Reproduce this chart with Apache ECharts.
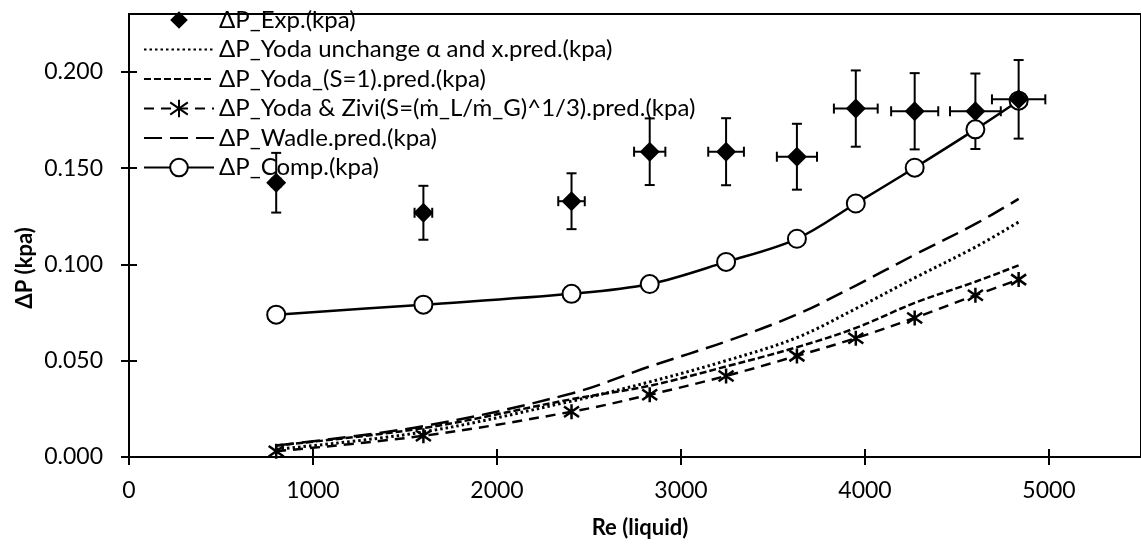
<!DOCTYPE html>
<html>
<head>
<meta charset="utf-8">
<script src="https://cdn.jsdelivr.net/npm/echarts@6/dist/echarts.min.js"></script>
<style>
html,body{margin:0;padding:0;background:#fff;}
#chart{width:1141px;height:546px;}
</style>
</head>
<body>
<div id="chart"></div>
<script>
// ---- data ----
const reLiquid = [800, 1600, 2405, 2830, 3245, 3630, 3950, 4270, 4600, 4835];
const expDP = [0.1424, 0.1268, 0.1328, 0.1585, 0.1585, 0.1559, 0.1809, 0.1795, 0.1795, 0.1857];
const expErrY = [0.0155, 0.0140, 0.0145, 0.0173, 0.0174, 0.0171, 0.0198, 0.0198, 0.0196, 0.0204];
const expErrX = [24, 48, 72, 85, 97, 109, 119, 128, 138, 145];
const yodaUnchanged = [0.004, 0.013, 0.029, 0.039, 0.050, 0.062, 0.077, 0.093, 0.109, 0.122];
const yodaS1 = [0.006, 0.015, 0.030, 0.037, 0.047, 0.057, 0.067, 0.080, 0.091, 0.0995];
const yodaZivi = [0.003, 0.011, 0.0235, 0.0323, 0.0421, 0.0525, 0.0617, 0.0722, 0.0840, 0.0921];
const wadle = [0.006, 0.016, 0.033, 0.047, 0.060, 0.074, 0.089, 0.105, 0.121, 0.134];
const comp = [0.0739, 0.0791, 0.0847, 0.0898, 0.1013, 0.1133, 0.1316, 0.1502, 0.1701, 0.1850];
const xTicks = [0, 1000, 2000, 3000, 4000, 5000];
const yTicks = [0, 0.05, 0.10, 0.15, 0.20];
const seriesNames = [
  'ΔP_Exp.(kpa)',
  'ΔP_Yoda unchange α and x.pred.(kpa)',
  'ΔP_Yoda_(S=1).pred.(kpa)',
  'ΔP_Yoda & Zivi(S=(ṁ_L/ṁ_G)^1/3).pred.(kpa)',
  'ΔP_Wadle.pred.(kpa)',
  'ΔP_Comp.(kpa)'
];
const xTitle = 'Re (liquid)';
const yTitle = 'ΔP (kpa)';

const FONT = 'Lato, "Open Sans", sans-serif';
const pair = arr => reLiquid.map((x, i) => [x, arr[i]]);
const errData = reLiquid.map((x, i) => [x, expDP[i], expErrX[i], expErrY[i]]);
const star = 'path://M10,0L10,20M0,3L20,17M0,17L20,3';

const chart = echarts.init(document.getElementById('chart'), null, {renderer: 'canvas'});

const baseX = {type: 'value', min: 0, max: 5500, interval: 1000, splitLine: {show: false}};
const baseY = {type: 'value', min: 0, max: 0.23, interval: 0.05, splitLine: {show: false}};

chart.setOption({
  animation: false,
  backgroundColor: '#fff',
  textStyle: {fontFamily: FONT},
  grid: {left: 129, top: 14, right: -9, bottom: 89, show: true, borderColor: '#000', borderWidth: 2, containLabel: false},
  xAxis: [
    Object.assign({}, baseX, {
      position: 'bottom',
      axisLine: {show: true, lineStyle: {color: '#000', width: 2}},
      axisTick: {show: true, inside: false, length: 8, lineStyle: {color: '#000', width: 2}, customValues: xTicks},
      axisLabel: {show: true, color: '#000', fontSize: 23, fontFamily: FONT, margin: 22,
        customValues: xTicks, formatter: v => String(Math.round(v))}
    }),
    Object.assign({}, baseX, {
      position: 'bottom',
      axisLine: {show: false},
      axisTick: {show: true, inside: true, length: 8, lineStyle: {color: '#000', width: 2}, customValues: xTicks},
      axisLabel: {show: false}
    })
  ],
  yAxis: [
    Object.assign({}, baseY, {
      position: 'left',
      axisLine: {show: true, lineStyle: {color: '#000', width: 2}},
      axisTick: {show: true, inside: false, length: 8, lineStyle: {color: '#000', width: 2}, customValues: yTicks},
      axisLabel: {show: true, color: '#000', fontSize: 23, fontFamily: FONT, margin: 26,
        customValues: yTicks, formatter: v => Number(v).toFixed(3)}
    }),
    Object.assign({}, baseY, {
      position: 'left',
      axisLine: {show: false},
      axisTick: {show: true, inside: true, length: 8, lineStyle: {color: '#000', width: 2}, customValues: yTicks},
      axisLabel: {show: false}
    })
  ],
  legend: {
    orient: 'vertical',
    left: 143,
    top: 8,
    itemWidth: 70,
    itemHeight: 22,
    itemGap: 5.5,
    padding: 0,
    textStyle: {fontSize: 24, color: '#000', fontFamily: FONT},
    data: seriesNames
  },
  graphic: [
    {type: 'text', x: 640, y: 528, style: {text: xTitle, font: 'bold 22px ' + FONT, fill: '#000', align: 'center', verticalAlign: 'middle'}, z: 100},
    {type: 'text', x: 25, y: 268, rotation: Math.PI / 2, style: {text: yTitle, font: 'bold 22px ' + FONT, fill: '#000', align: 'center', verticalAlign: 'middle'}, z: 100}
  ],
  series: [
    {
      type: 'custom',
      name: 'errorbars',
      xAxisIndex: 0, yAxisIndex: 0,
      z: 3,
      data: errData,
      renderItem: function (params, api) {
        const x = api.value(0), y = api.value(1), ex = api.value(2), ey = api.value(3);
        const c = api.coord([x, y]);
        const top = api.coord([x, y + ey]);
        const bot = api.coord([x, y - ey]);
        const lft = api.coord([x - ex, y]);
        const rgt = api.coord([x + ex, y]);
        const cap = 5;
        const st = {stroke: '#000', lineWidth: 2};
        return {
          type: 'group',
          children: [
            {type: 'line', shape: {x1: c[0], y1: top[1], x2: c[0], y2: bot[1]}, style: st},
            {type: 'line', shape: {x1: c[0] - cap, y1: top[1], x2: c[0] + cap, y2: top[1]}, style: st},
            {type: 'line', shape: {x1: c[0] - cap, y1: bot[1], x2: c[0] + cap, y2: bot[1]}, style: st},
            {type: 'line', shape: {x1: lft[0], y1: c[1], x2: rgt[0], y2: c[1]}, style: st},
            {type: 'line', shape: {x1: lft[0], y1: c[1] - cap, x2: lft[0], y2: c[1] + cap}, style: st},
            {type: 'line', shape: {x1: rgt[0], y1: c[1] - cap, x2: rgt[0], y2: c[1] + cap}, style: st}
          ]
        };
      }
    },
    {
      name: seriesNames[1], type: 'line', data: pair(yodaUnchanged), smooth: 0.35,
      symbol: 'none', showSymbol: false, z: 2,
      lineStyle: {color: '#000', width: 3, type: [2.5, 3]}, itemStyle: {color: 'transparent', borderWidth: 0}
    },
    {
      name: seriesNames[2], type: 'line', data: pair(yodaS1), smooth: 0.35,
      symbol: 'none', showSymbol: false, z: 2,
      lineStyle: {color: '#000', width: 2.5, type: [7, 3]}, itemStyle: {color: 'transparent', borderWidth: 0}
    },
    {
      name: seriesNames[3], type: 'line', data: pair(yodaZivi), smooth: 0.35,
      symbol: star, symbolSize: 15, z: 2,
      lineStyle: {color: '#000', width: 2.5, type: [10, 7]},
      itemStyle: {color: '#000', borderColor: '#000', borderWidth: 2.5}
    },
    {
      name: seriesNames[4], type: 'line', data: pair(wadle), smooth: 0.35,
      symbol: 'none', showSymbol: false, z: 2,
      lineStyle: {color: '#000', width: 2.5, type: [18, 8]}, itemStyle: {color: 'transparent', borderWidth: 0}
    },
    {
      name: seriesNames[5], type: 'line', data: pair(comp), smooth: 0.35,
      symbol: 'circle', symbolSize: 18, z: 4,
      lineStyle: {color: '#000', width: 2.5},
      itemStyle: {color: '#fff', borderColor: '#000', borderWidth: 2}
    },
    {
      name: seriesNames[0], type: 'line', data: pair(expDP),
      symbol: 'diamond', symbolSize: 20, z: 5,
      lineStyle: {width: 0, opacity: 0},
      itemStyle: {color: '#000'}
    }
  ]
});
</script>
</body>
</html>
